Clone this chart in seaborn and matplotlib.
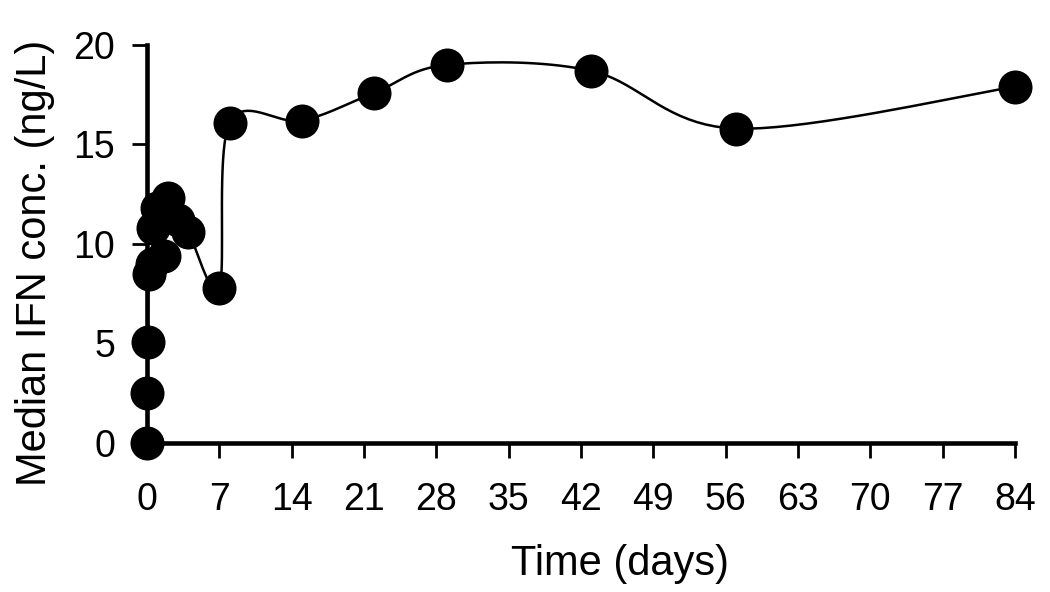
import numpy as np
import matplotlib
matplotlib.use('Agg')
import matplotlib.pyplot as plt
import seaborn as sns

# data
time_days = [0, 0.04, 0.08, 0.17, 0.5, 0.6, 1, 1.6, 2, 3, 4, 7, 8, 15, 22, 29, 43, 57, 84]
median_ifn = [0, 2.5, 5.1, 8.5, 9.0, 10.8, 11.8, 9.4, 12.3, 11.2, 10.6, 7.8, 16.1, 16.2, 17.6, 19.0, 18.7, 15.8, 17.9]
x_ticks = list(range(0, 85, 7))
y_ticks = [0, 5, 10, 15, 20]


def catmull_rom(x, y, n=20):
    '''
    smooth line through the points (like a spreadsheet "smoothed line")
    '''
    x = np.asarray(x, float)
    y = np.asarray(y, float)
    px = np.concatenate([[x[0]], x, [x[-1]]])
    py = np.concatenate([[y[0]], y, [y[-1]]])
    xs, ys = [], []
    t = np.linspace(0, 1, n)
    for i in range(1, len(px) - 2):
        for p, out in ((px, xs), (py, ys)):
            p0, p1, p2, p3 = p[i - 1], p[i], p[i + 1], p[i + 2]
            out.extend(0.5 * ((2 * p1) + (-p0 + p2) * t
                              + (2 * p0 - 5 * p1 + 4 * p2 - p3) * t ** 2
                              + (-p0 + 3 * p1 - 3 * p2 + p3) * t ** 3))
    return np.array(xs), np.array(ys)


sns.set_style('ticks')
plt.rcParams['font.family'] = ['Liberation Sans', 'DejaVu Sans']

fig = plt.figure(figsize=(10.5, 5.92), dpi=100)
ax = fig.add_axes([0.14, 0.2517, 0.8267, 0.6723])

# smoothed connecting line, then the markers on top
sx, sy = catmull_rom(time_days, median_ifn)
ax.plot(sx, sy, color='black', lw=1.8, clip_on=False, zorder=2)
sns.scatterplot(x=time_days, y=median_ifn, ax=ax, color='black', s=600,
                edgecolor='black', linewidth=0, clip_on=False, zorder=3,
                legend=False)

ax.set_xlim(0, 84)
ax.set_ylim(0, 20)
ax.set_xticks(x_ticks)
ax.set_yticks(y_ticks)
ax.tick_params(axis='both', labelsize=27, width=2, length=11, direction='out',
               color='black', labelcolor='black')
ax.tick_params(axis='x', pad=17)
ax.tick_params(axis='y', pad=12)
for side in ['left', 'bottom']:
    ax.spines[side].set_linewidth(3.3)
    ax.spines[side].set_color('black')
sns.despine(ax=ax)
ax.set_xlabel('Time (days)', fontsize=30, color='black')
ax.set_ylabel('Median IFN conc. (ng/L)', fontsize=30, color='black')
ax.xaxis.set_label_coords(0.545, -0.255)
ax.yaxis.set_label_coords(-0.106, 0.452)

fig.savefig('out.png', dpi=100)
